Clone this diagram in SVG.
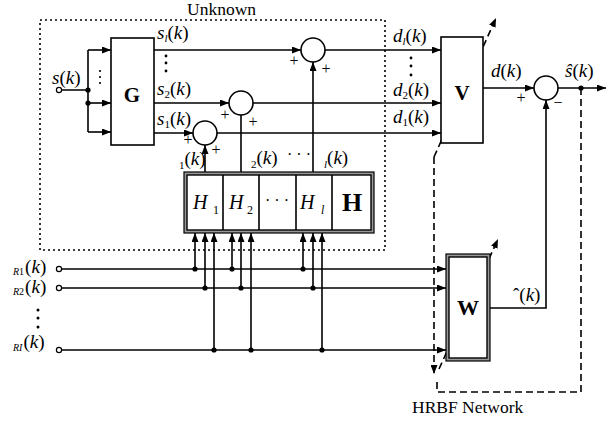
<svg xmlns="http://www.w3.org/2000/svg" width="615" height="421" viewBox="0 0 615 421">
<defs>
<marker id="ar" markerUnits="userSpaceOnUse" markerWidth="9" markerHeight="7" refX="9" refY="3.5" orient="auto"><path d="M0,0 L9,3.5 L0,7 z" fill="#000"/></marker>
</defs>
<style>
.ln{stroke:#000;stroke-width:1.6;fill:none}
.dash{stroke:#000;stroke-width:1.6;fill:none;stroke-dasharray:7 4}
.dot{stroke:#000;stroke-width:1.6;fill:none;stroke-dasharray:2 3}
.box{fill:#fff;stroke:#000;stroke-width:1.6}
.sum{fill:#fff;stroke:#000;stroke-width:1.6}
.jn{fill:#000}
.io{fill:#fff;stroke:#000;stroke-width:1.2}
.t{font-family:"Liberation Serif","Times New Roman",serif;fill:#000}
.i{font-style:italic}
.b{font-weight:bold}
.v{font-size:19px}
.s{font-size:11px}
.p{font-size:16px}
</style>
<rect class="dot" x="40" y="20" width="345" height="230"/>
<text class="t" x="187" y="15" font-size="17.5">Unknown</text>
<text class="t" x="412" y="413" font-size="17.5">HRBF Network</text>

<g id="connectors">
<path class="ln" d="M62,90 H88 M88,50 V132"/>
<path class="ln" marker-end="url(#ar)" d="M88,50 H111"/>
<path class="ln" marker-end="url(#ar)" d="M88,103 H111"/>
<path class="ln" marker-end="url(#ar)" d="M88,132 H111"/>
<circle class="jn" cx="88" cy="90" r="2.6"/>
<circle class="jn" cx="88" cy="103" r="2.6"/>
<path class="ln" marker-end="url(#ar)" d="M154,50 H301"/>
<path class="ln" marker-end="url(#ar)" d="M154,103 H229"/>
<path class="ln" marker-end="url(#ar)" d="M154,133 H193"/>
<path class="ln" marker-end="url(#ar)" d="M325,50 H441"/>
<path class="ln" marker-end="url(#ar)" d="M253,103 H441"/>
<path class="ln" marker-end="url(#ar)" d="M217,133 H441"/>
<path class="ln" marker-end="url(#ar)" d="M205,172 V145"/>
<path class="ln" d="M241,172 V115"/>
<path class="ln" marker-end="url(#ar)" d="M313,172 V62"/>
<path class="ln" marker-end="url(#ar)" d="M483,88 H534"/>
<path class="ln" marker-end="url(#ar)" d="M558,88 H606"/>
<circle class="jn" cx="581" cy="88" r="2.6"/>
<path class="ln" marker-end="url(#ar)" d="M490,308 H546 V100"/>
<path class="ln" marker-end="url(#ar)" d="M62,269 H446"/>
<path class="ln" marker-end="url(#ar)" d="M62,288 H446"/>
<path class="ln" marker-end="url(#ar)" d="M62,350 H446"/>
<path class="ln" marker-end="url(#ar)" d="M195,269 V233"/>
<path class="ln" marker-end="url(#ar)" d="M205,288 V233"/>
<path class="ln" marker-end="url(#ar)" d="M214,350 V233"/>
<path class="ln" marker-end="url(#ar)" d="M232,269 V233"/>
<path class="ln" marker-end="url(#ar)" d="M241,288 V233"/>
<path class="ln" marker-end="url(#ar)" d="M251,350 V233"/>
<path class="ln" marker-end="url(#ar)" d="M303,269 V233"/>
<path class="ln" marker-end="url(#ar)" d="M313,288 V233"/>
<path class="ln" marker-end="url(#ar)" d="M322,350 V233"/>
<g class="jn">
<circle cx="195" cy="269" r="2.6"/><circle cx="232" cy="269" r="2.6"/><circle cx="303" cy="269" r="2.6"/>
<circle cx="205" cy="288" r="2.6"/><circle cx="241" cy="288" r="2.6"/><circle cx="313" cy="288" r="2.6"/>
<circle cx="214" cy="350" r="2.6"/><circle cx="251" cy="350" r="2.6"/><circle cx="322" cy="350" r="2.6"/>
</g>
<path class="dash" d="M581,88 V392 H437 V382"/>
<path class="dash" marker-end="url(#ar)" d="M434,157 V374"/>
<path class="dash" marker-end="url(#ar)" d="M434,157 L496,18"/>
<path class="dash" marker-end="url(#ar)" d="M439,369 L498,239"/>
</g>

<g id="inputs">
<circle class="io" cx="59" cy="90" r="2.6"/>
<circle class="io" cx="59" cy="269" r="2.6"/>
<circle class="io" cx="59" cy="288" r="2.6"/>
<circle class="io" cx="59" cy="350" r="2.6"/>
<text class="t v" x="52" y="84"><tspan class="i">s</tspan>(<tspan class="i">k</tspan>)</text>
<g class="jn"><circle cx="100" cy="71" r="1.1"/><circle cx="100" cy="77" r="1.1"/><circle cx="100" cy="83" r="1.1"/></g>
<text class="t" x="13" y="275"><tspan class="i" font-size="10">R</tspan><tspan font-size="10">1</tspan><tspan font-size="19" dx="1" dy="-2">(<tspan class="i">k</tspan>)</tspan></text>
<text class="t" x="13" y="295"><tspan class="i" font-size="10">R</tspan><tspan font-size="10">2</tspan><tspan font-size="19" dx="1" dy="-2">(<tspan class="i">k</tspan>)</tspan></text>
<text class="t" x="13" y="351"><tspan class="i" font-size="10">RI</tspan><tspan font-size="19" dx="1" dy="-3">(<tspan class="i">k</tspan>)</tspan></text>
<g class="jn"><circle cx="38" cy="310" r="1.5"/><circle cx="38" cy="318" r="1.5"/><circle cx="38" cy="327" r="1.5"/></g>
</g>

<g id="G">
<rect class="box" x="111" y="38" width="43" height="107"/>
<text class="t b" x="132" y="102" font-size="21" text-anchor="middle">G</text>
<text class="t v" x="157" y="39"><tspan class="i">s</tspan><tspan class="s i" dy="3">l</tspan><tspan dy="-3">(<tspan class="i">k</tspan>)</tspan></text>
<text class="t v" x="157" y="95"><tspan class="i">s</tspan><tspan class="s" dy="3">2</tspan><tspan dy="-3">(<tspan class="i">k</tspan>)</tspan></text>
<text class="t v" x="157" y="125"><tspan class="i">s</tspan><tspan class="s" dy="3">1</tspan><tspan dy="-3">(<tspan class="i">k</tspan>)</tspan></text>
<g class="jn"><circle cx="166" cy="56" r="1.4"/><circle cx="166" cy="63" r="1.4"/><circle cx="166" cy="71" r="1.4"/></g>
</g>

<g id="sum1">
<circle class="sum" cx="313" cy="50" r="12"/>
<text class="t p" x="294" y="66" text-anchor="middle">+</text>
<text class="t p" x="326" y="74" text-anchor="middle">+</text>
</g>
<g id="sum2">
<circle class="sum" cx="241" cy="103" r="12"/>
<text class="t p" x="225" y="120" text-anchor="middle">+</text>
<text class="t p" x="253" y="127" text-anchor="middle">+</text>
</g>
<g id="sum3">
<circle class="sum" cx="205" cy="133" r="12"/>
<text class="t p" x="188" y="145" text-anchor="middle">+</text>
<text class="t p" x="216" y="155" text-anchor="middle">+</text>
</g>

<g id="H-labels">
<text class="t v" x="179" y="169"><tspan class="s">1</tspan><tspan dy="-4">(<tspan class="i">k</tspan>)</tspan></text>
<text class="t v" x="251" y="168"><tspan class="s">2</tspan><tspan dy="-4">(<tspan class="i">k</tspan>)</tspan></text>
<text class="t p" x="287" y="160">· · ·</text>
<text class="t v" x="324" y="168"><tspan class="s i">l</tspan><tspan dy="-4">(<tspan class="i">k</tspan>)</tspan></text>
</g>

<g id="H">
<rect x="184" y="172" width="190" height="61" fill="#999" stroke="#000" stroke-width="1.2"/>
<rect x="187" y="175" width="184" height="55" fill="#fff" stroke="#000" stroke-width="1.4"/>
<path class="ln" d="M223,175 V230 M259,175 V230 M296,175 V230 M332,175 V230"/>
<text class="t i" x="193" y="209" font-size="20">H</text><text class="t" x="213" y="214" font-size="12">1</text>
<text class="t i" x="229" y="209" font-size="20">H</text><text class="t" x="247" y="214" font-size="12">2</text>
<text class="t" x="277" y="206" font-size="16" text-anchor="middle">· · ·</text>
<text class="t i" x="300" y="209" font-size="20">H</text><text class="t i" x="321" y="214" font-size="12">l</text>
<text class="t b" x="352" y="211" font-size="26" text-anchor="middle">H</text>
</g>

<g id="V">
<rect class="box" x="441" y="37" width="42" height="106"/>
<text class="t b" x="462" y="100" font-size="21" text-anchor="middle">V</text>
<text class="t v" x="393" y="42"><tspan class="i">d</tspan><tspan class="s i" dy="3">l</tspan><tspan dy="-3">(<tspan class="i">k</tspan>)</tspan></text>
<text class="t v" x="393" y="96"><tspan class="i">d</tspan><tspan class="s" dy="3">2</tspan><tspan dy="-3">(<tspan class="i">k</tspan>)</tspan></text>
<text class="t v" x="393" y="123"><tspan class="i">d</tspan><tspan class="s" dy="3">1</tspan><tspan dy="-3">(<tspan class="i">k</tspan>)</tspan></text>
<g class="jn"><circle cx="411" cy="58" r="1.4"/><circle cx="411" cy="66" r="1.4"/><circle cx="411" cy="75" r="1.4"/></g>
</g>

<g id="sumOut">
<circle class="sum" cx="546" cy="88" r="12"/>
<text class="t p" x="521" y="103" text-anchor="middle">+</text>
<text class="t p" x="558" y="108" text-anchor="middle">−</text>
<text class="t v" x="491" y="77"><tspan class="i">d</tspan>(<tspan class="i">k</tspan>)</text>
<text class="t v" x="565" y="77"><tspan class="i">ŝ</tspan>(<tspan class="i">k</tspan>)</text>
</g>

<g id="W">
<rect x="446" y="254" width="44" height="107" fill="#999" stroke="#000" stroke-width="1.2"/>
<rect x="449" y="257" width="38" height="101" fill="#fff" stroke="#000" stroke-width="1.4"/>
<text class="t b" x="468" y="315" font-size="22" text-anchor="middle">W</text>
<text class="t v" x="513" y="301">ˆ(<tspan class="i">k</tspan>)</text>
</g>
</svg>
